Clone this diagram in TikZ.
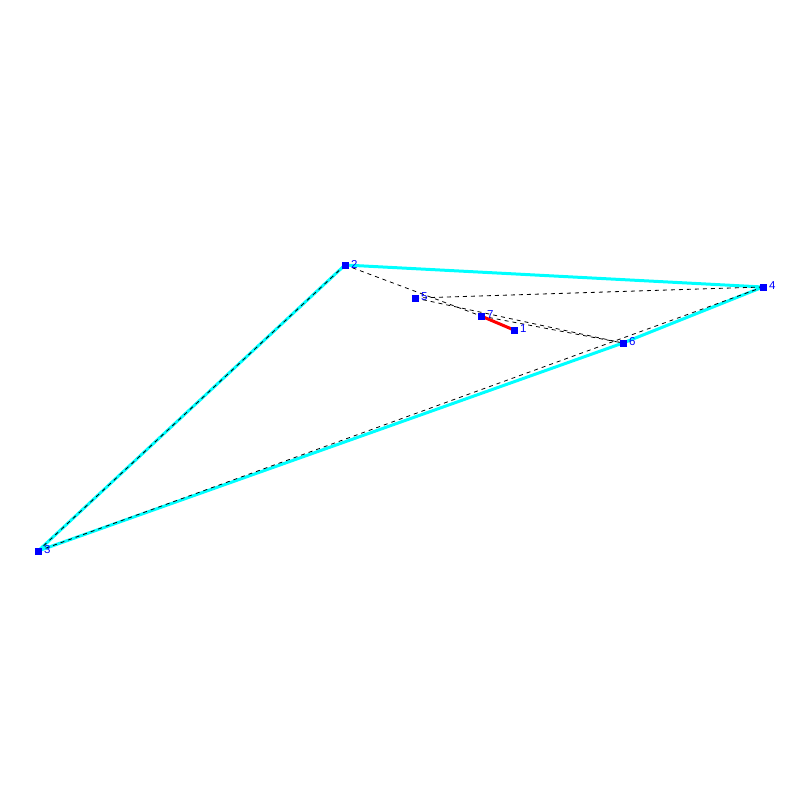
\documentclass[tikz,border=0pt]{standalone}
\usepackage{fontspec}
\setmainfont{Liberation Sans}
\begin{document}
\begin{tikzpicture}[x=1pt,y=-1pt,
  hull/.style={draw={rgb,255:red,0;green,255;blue,255},line width=3pt},
  tri/.style={draw=black,line width=0.8pt,dash pattern=on 4pt off 4pt},
  seg/.style={draw=red,line width=3pt},
  pt/.style={fill={rgb,255:red,0;green,0;blue,255},minimum size=7pt,inner sep=0pt,outer sep=0pt,rectangle},
  lab/.style={text={rgb,255:red,0;green,0;blue,255},font=\fontsize{11.5}{11.5}\selectfont,anchor=west,inner sep=0.5pt}]
\useasboundingbox (0,0) rectangle (800,800);
\fill[white] (0,0) rectangle (800,800);
\coordinate (p1) at (514,330);
\coordinate (p2) at (345,265);
\coordinate (p3) at (38,551);
\coordinate (p4) at (763,287);
\coordinate (p5) at (415,298);
\coordinate (p6) at (623,343);
\coordinate (p7) at (481,316);
% hull
\draw[hull] (p2) -- (p4);
\draw[hull] (p4) -- (p6);
\draw[hull] (p6) -- (p3);
\draw[hull] (p3) -- (p2);
% dashed edges
\draw[tri] (p2) -- (p3);
\draw[tri] (p3) -- (p4);
\draw[tri] (p2) -- (p7);
\draw[tri] (p7) -- (p6);
\draw[tri] (p5) -- (p6);
\draw[tri] (p5) -- (p4);
% red segment
\draw[seg] (p7) -- (p1);
% markers and labels
\foreach \i in {1,...,7}{
  \node[pt] (m\i) at (p\i) {};
  \node[lab] (l\i) at ([xshift=2pt,yshift=1pt]m\i.east) {\i};
}
\end{tikzpicture}
\end{document}
